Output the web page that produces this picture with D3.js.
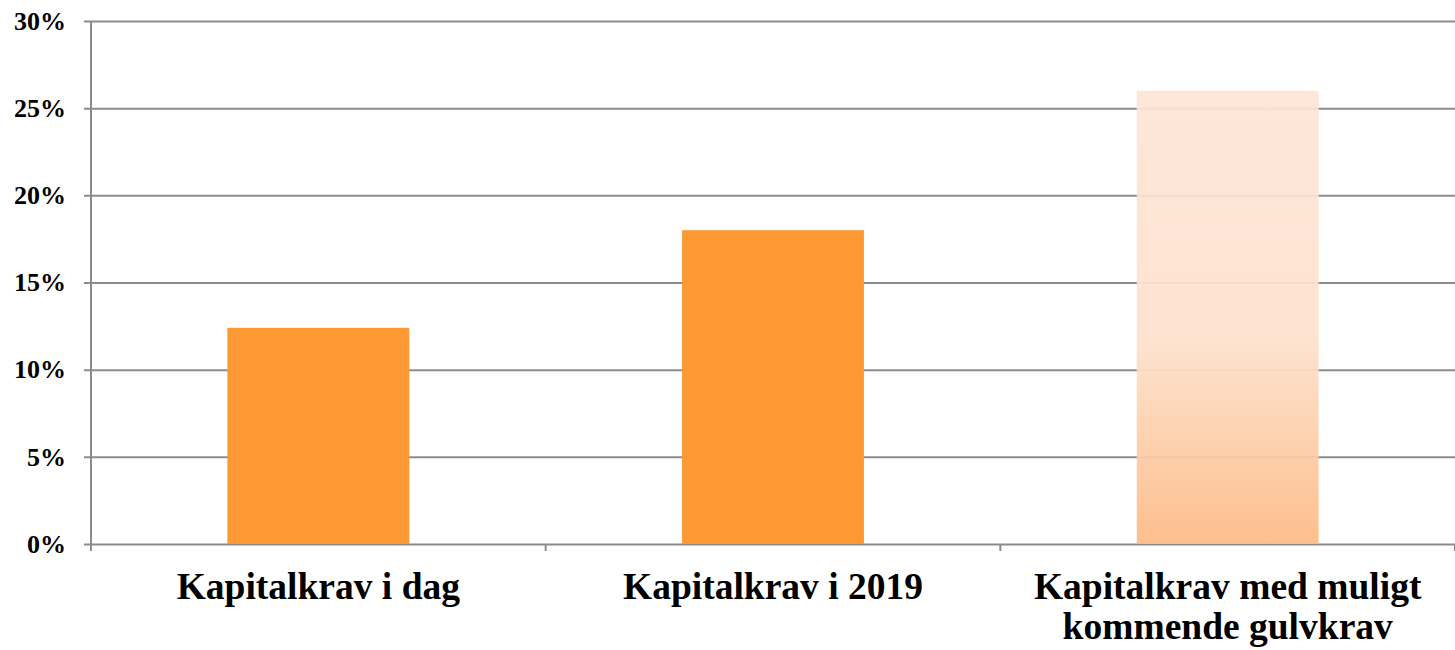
<!DOCTYPE html>
<html>
<head>
<meta charset="utf-8">
<script src="https://cdn.jsdelivr.net/npm/d3@7"></script>
<style>
  body { margin: 0; background: #fff; }
  svg { display: block; }
</style>
</head>
<body>
<svg id="drawing_region"></svg>
<script>
// chart data
const categories = ['Kapitalkrav i dag', 'Kapitalkrav i 2019', 'Kapitalkrav med muligt kommende gulvkrav'];
const values = [0.124, 0.18, 0.26];
const y_ticks = [0, 0.05, 0.10, 0.15, 0.20, 0.25, 0.30];
const label_lines = [['Kapitalkrav i dag'], ['Kapitalkrav i 2019'], ['Kapitalkrav med muligt', 'kommende gulvkrav']];

const width = 1455, height = 650;
const margin = {top: 21, right: 0, bottom: 106, left: 91};

const svg = d3.select('#drawing_region')
    .attr('width', width)
    .attr('height', height);

const inner_width = width - margin.left - margin.right;
const inner_height = height - margin.top - margin.bottom;

const defs = svg.append('defs');
const grad = defs.append('linearGradient')
    .attr('id', 'fade')
    .attr('x1', 0).attr('y1', 0).attr('x2', 0).attr('y2', 1);
grad.append('stop').attr('offset', '0%').attr('stop-color', '#fde5d6');
grad.append('stop').attr('offset', '55%').attr('stop-color', '#fde1cd');
grad.append('stop').attr('offset', '100%').attr('stop-color', '#fdba85');

const x = d3.scaleBand()
    .domain(categories)
    .range([0, inner_width])
    .paddingInner(0.6)
    .paddingOuter(0.3);

const y = d3.scaleLinear()
    .domain([0, 0.30])
    .range([inner_height, 0]);

const chart = svg.append('g')
    .attr('transform', `translate(${margin.left},${margin.top})`);

// gridlines + y labels
const y_axis = chart.append('g')
    .call(d3.axisLeft(y)
        .tickValues(y_ticks)
        .tickSize(-inner_width)
        .tickSizeOuter(0)
        .tickPadding(25)
        .tickFormat(d3.format('.0%')));
y_axis.select('.domain').remove();
y_axis.selectAll('.tick line')
    .attr('x1', -7)
    .attr('stroke', '#8c8c8c')
    .attr('stroke-width', 2);
y_axis.selectAll('.tick text')
    .style('font-family', '"Liberation Serif", "Times New Roman", serif')
    .style('font-weight', 'bold')
    .style('font-size', '26px')
    .attr('fill', '#000');

// bars
chart.selectAll('.bar')
    .data(values)
    .enter()
    .append('rect')
    .attr('class', 'bar')
    .attr('x', (d, i) => x(categories[i]))
    .attr('y', d => y(d))
    .attr('width', x.bandwidth())
    .attr('height', d => y(0) - y(d))
    .attr('fill', (d, i) => i === 2 ? 'url(#fade)' : '#fe9833')
    .attr('fill-opacity', (d, i) => i === 2 ? 0.93 : 1);

// vertical axis line
chart.append('line')
    .attr('x1', 0).attr('x2', 0)
    .attr('y1', 0).attr('y2', inner_height + 7)
    .attr('stroke', '#8c8c8c')
    .attr('stroke-width', 2);

// category ticks on x axis
const step = inner_width / categories.length;
chart.selectAll('.xtick')
    .data(d3.range(1, categories.length + 1))
    .enter()
    .append('line')
    .attr('class', 'xtick')
    .attr('x1', d => d * step).attr('x2', d => d * step)
    .attr('y1', inner_height).attr('y2', inner_height + 7)
    .attr('stroke', '#8c8c8c')
    .attr('stroke-width', 2);

// x labels
const labels = chart.selectAll('.xlabel')
    .data(categories)
    .enter()
    .append('text')
    .attr('class', 'xlabel')
    .attr('text-anchor', 'middle')
    .attr('transform', d => `translate(${x(d) + x.bandwidth() / 2},${inner_height + 55})`)
    .style('font-family', '"Liberation Serif", "Times New Roman", serif')
    .style('font-weight', 'bold')
    .style('font-size', '37.5px')
    .attr('fill', '#000');

labels.each(function (d, i) {
    d3.select(this).selectAll('tspan')
        .data(label_lines[i])
        .enter()
        .append('tspan')
        .attr('x', 0)
        .attr('dy', (t, j) => j === 0 ? 0 : 40)
        .text(t => t);
});
</script>
</body>
</html>
